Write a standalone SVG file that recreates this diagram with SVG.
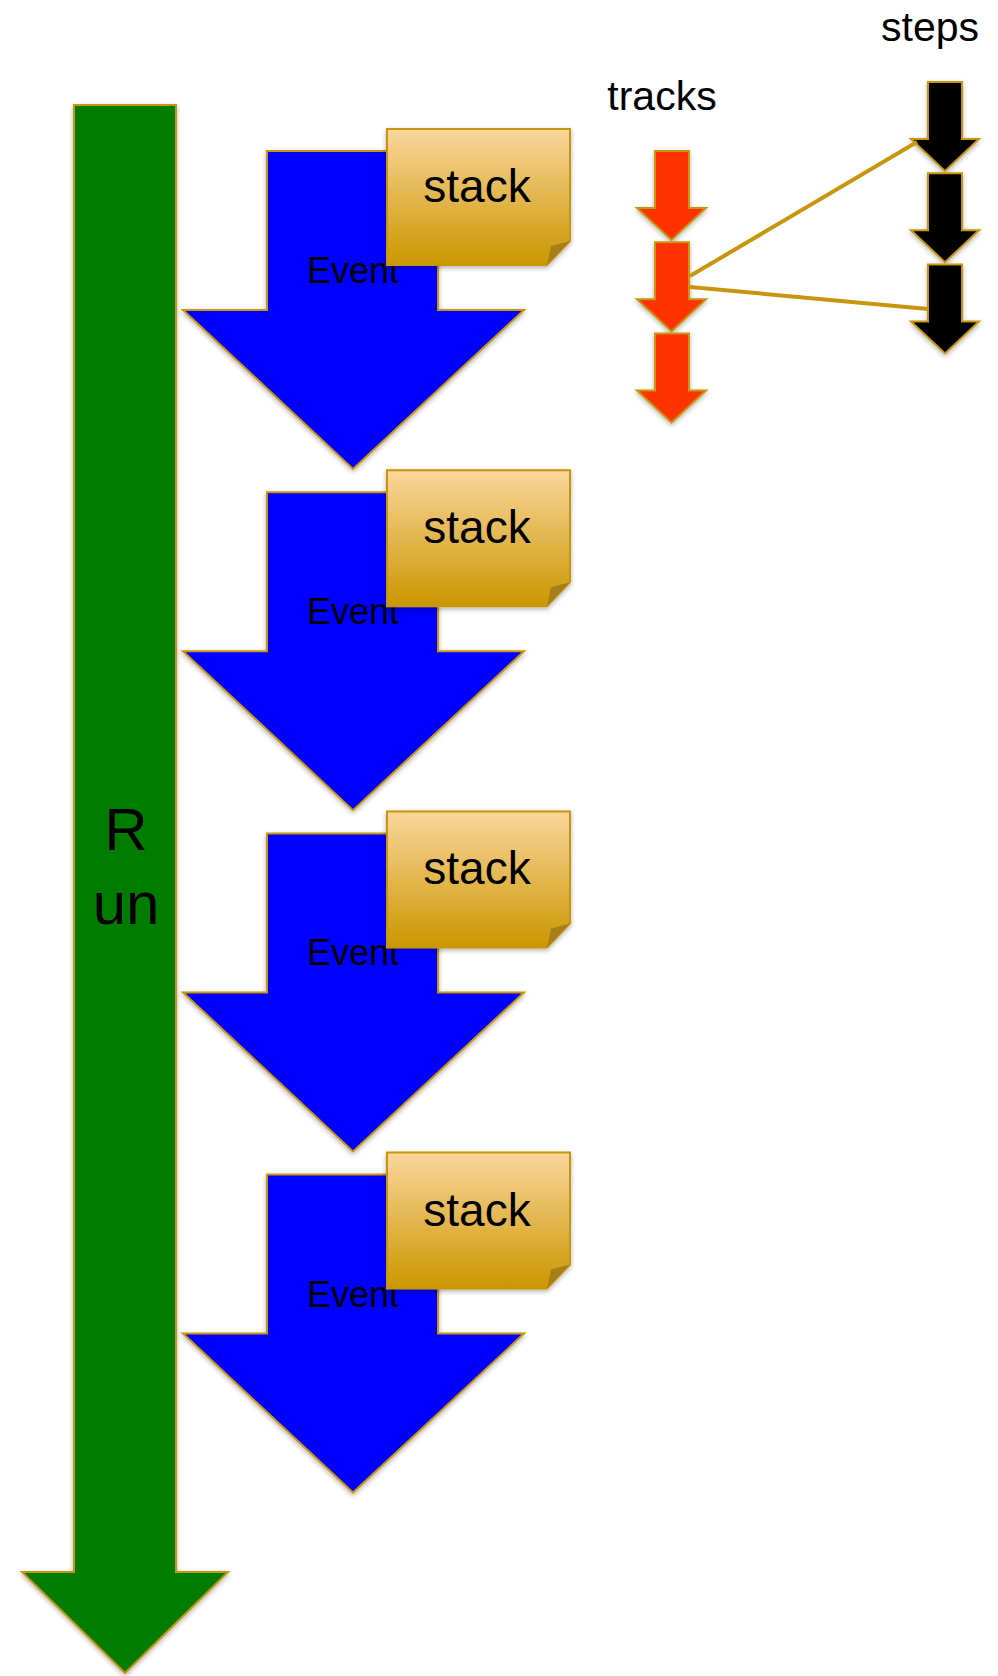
<svg xmlns="http://www.w3.org/2000/svg" width="998" height="1676" viewBox="0 0 998 1676">
<defs>
<linearGradient id="stackGrad" x1="0" y1="0" x2="0" y2="1">
<stop offset="0" stop-color="#fad69c"/>
<stop offset="1" stop-color="#cb9700"/>
</linearGradient>
<filter id="sh" x="-20%" y="-10%" width="140%" height="130%">
<feDropShadow dx="0" dy="2" stdDeviation="2.5" flood-color="#000" flood-opacity="0.3"/>
</filter>
</defs>
<style>
.outline{stroke:#c8960c;stroke-width:2;stroke-linejoin:miter}
.t{font-family:"Liberation Sans",Arial,Helvetica,sans-serif;fill:#000}
.event{fill:#0000ff}
.track{fill:#ff3300}
.step{fill:#000000}
.stack{fill:url(#stackGrad)}
.fold{fill:#a87e18}
.conn{stroke:#c8960c;stroke-width:4;fill:none}
</style>
<rect width="998" height="1676" fill="#ffffff"/>

<g id="run">
<polygon class="outline" fill="#007c00" filter="url(#sh)" points="74,105 176,105 176,1572 228,1572 125,1673 22,1572 74,1572"/>
<text class="t" x="126" y="850" font-size="60" text-anchor="middle">R</text>
<text class="t" x="126" y="924" font-size="60" text-anchor="middle">un</text>
</g>

<g id="event1">
<polygon class="event outline" filter="url(#sh)" points="267,151 438,151 438,310 524,310 353,469 183,310 267,310"/>
<text class="t" x="353" y="283" font-size="36" text-anchor="middle">Event</text>
</g>
<g id="stack1">
<path class="stack outline" filter="url(#sh)" d="M387,129 H570 V241 L547,265 H387 Z"/>
<polygon class="fold" points="570,241 547,265 551,246"/>
<text class="t" x="477" y="202" font-size="46" text-anchor="middle">stack</text>
</g>

<g id="event2" transform="translate(0,341.2)">
<polygon class="event outline" filter="url(#sh)" points="267,151 438,151 438,310 524,310 353,469 183,310 267,310"/>
<text class="t" x="353" y="283" font-size="36" text-anchor="middle">Event</text>
</g>
<g id="stack2" transform="translate(0,341.2)">
<path class="stack outline" filter="url(#sh)" d="M387,129 H570 V241 L547,265 H387 Z"/>
<polygon class="fold" points="570,241 547,265 551,246"/>
<text class="t" x="477" y="202" font-size="46" text-anchor="middle">stack</text>
</g>

<g id="event3" transform="translate(0,682.4)">
<polygon class="event outline" filter="url(#sh)" points="267,151 438,151 438,310 524,310 353,469 183,310 267,310"/>
<text class="t" x="353" y="283" font-size="36" text-anchor="middle">Event</text>
</g>
<g id="stack3" transform="translate(0,682.4)">
<path class="stack outline" filter="url(#sh)" d="M387,129 H570 V241 L547,265 H387 Z"/>
<polygon class="fold" points="570,241 547,265 551,246"/>
<text class="t" x="477" y="202" font-size="46" text-anchor="middle">stack</text>
</g>

<g id="event4" transform="translate(0,1023.6)">
<polygon class="event outline" filter="url(#sh)" points="267,151 438,151 438,310 524,310 353,469 183,310 267,310"/>
<text class="t" x="353" y="283" font-size="36" text-anchor="middle">Event</text>
</g>
<g id="stack4" transform="translate(0,1023.6)">
<path class="stack outline" filter="url(#sh)" d="M387,129 H570 V241 L547,265 H387 Z"/>
<polygon class="fold" points="570,241 547,265 551,246"/>
<text class="t" x="477" y="202" font-size="46" text-anchor="middle">stack</text>
</g>

<g id="tracks-label">
<text class="t" x="662" y="110" font-size="41" text-anchor="middle">tracks</text>
</g>
<g id="steps-label">
<text class="t" x="930" y="41" font-size="41" text-anchor="middle">steps</text>
</g>

<g id="track1">
<polygon class="track outline" filter="url(#sh)" points="655,151 689,151 689,208 706,208 671.5,240 637,208 655,208"/>
</g>
<g id="track2" transform="translate(0,91.3)">
<polygon class="track outline" filter="url(#sh)" points="655,151 689,151 689,208 706,208 671.5,240 637,208 655,208"/>
</g>
<g id="track3" transform="translate(0,182.6)">
<polygon class="track outline" filter="url(#sh)" points="655,151 689,151 689,208 706,208 671.5,240 637,208 655,208"/>
</g>

<g id="step1">
<polygon class="step outline" filter="url(#sh)" points="928,82 962,82 962,139 979,139 945,171 911,139 928,139"/>
</g>
<g id="step2" transform="translate(0,91.2)">
<polygon class="step outline" filter="url(#sh)" points="928,82 962,82 962,139 979,139 945,171 911,139 928,139"/>
</g>
<g id="step3" transform="translate(0,182.4)">
<polygon class="step outline" filter="url(#sh)" points="928,82 962,82 962,139 979,139 945,171 911,139 928,139"/>
</g>

<g id="connectors">
<line class="conn" x1="690" y1="276" x2="917" y2="142"/>
<line class="conn" x1="690" y1="287" x2="928" y2="309"/>
</g>
</svg>
